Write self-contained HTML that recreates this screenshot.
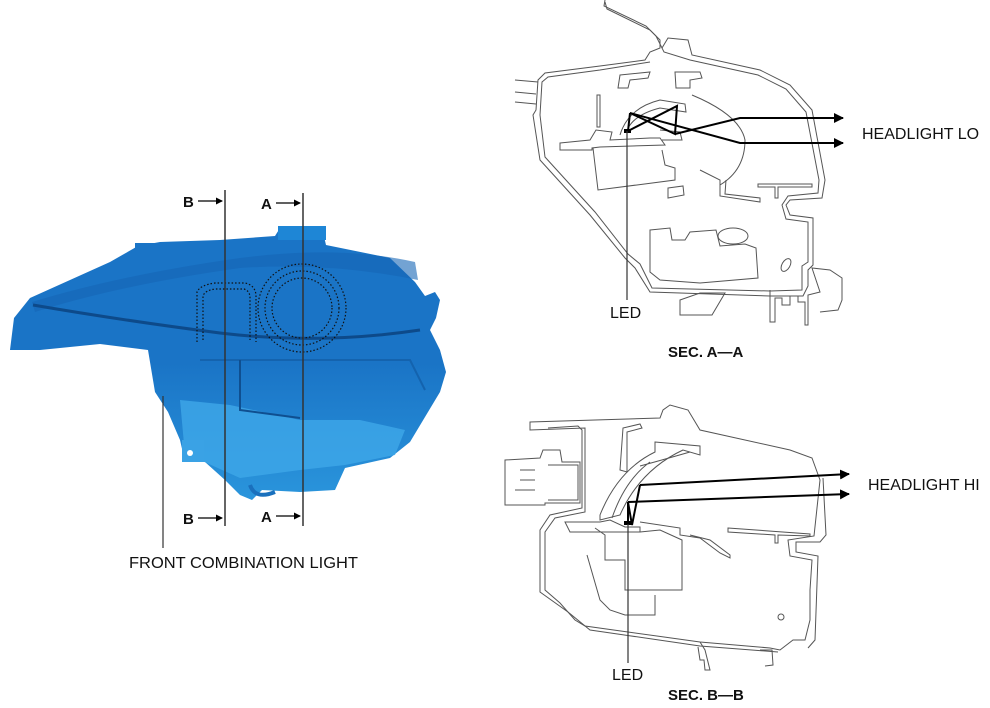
<!DOCTYPE html>
<html><head><meta charset="utf-8">
<style>
html,body{margin:0;padding:0;background:#fff;}
svg{display:block;}
text{font-family:"Liberation Sans",Arial,sans-serif;fill:#111;}
</style></head>
<body>
<svg width="990" height="708" viewBox="0 0 990 708" xmlns="http://www.w3.org/2000/svg">
<defs>
<marker id="ah" markerWidth="10" markerHeight="10" refX="9" refY="5" orient="auto" markerUnits="userSpaceOnUse">
<path d="M0,0 L10,5 L0,10 Z" fill="#000"/></marker>
<marker id="as" markerWidth="7" markerHeight="7" refX="6" refY="3.5" orient="auto" markerUnits="userSpaceOnUse">
<path d="M0,0 L7,3.5 L0,7 Z" fill="#000"/></marker>
<linearGradient id="bg" x1="0" y1="0" x2="0" y2="1">
<stop offset="0" stop-color="#1a74c6"/><stop offset="0.5" stop-color="#1a74c6"/><stop offset="1" stop-color="#2a95dc"/></linearGradient>
</defs>

<path d="M10,350 L14,318 L30,298 L110,262 L138,246 L160,242 L220,240 L275,236 L280,228 L300,226 L322,228 L326,245 L390,258 L415,282 L425,296 L435,292 L440,300 L436,318 L430,330 L440,350 L446,372 L440,392 L428,412 L410,442 L390,458 L345,468 L335,490 L300,492 L262,490 L252,500 L240,495 L225,480 L205,462 L185,462 L180,440 L168,412 L155,392 L148,350 L100,344 L40,350 Z" fill="url(#bg)"/>
<path d="M180,400 L230,405 L300,420 L360,420 L405,430 L395,455 L345,465 L300,470 L240,478 L200,460 L185,455 Z" fill="#3fa8e8" opacity="0.8"/>
<path d="M32,302 Q120,275 240,258 Q340,245 415,262 L418,280 Q330,262 240,268 Q120,285 35,312 Z" fill="#1565b5" opacity="0.6"/>
<path d="M33,305 Q120,320 220,333 Q320,345 420,330" fill="none" stroke="#0d4a8a" stroke-width="3"/>
<path d="M200,360 L410,360 L425,390" fill="none" stroke="#1463ae" stroke-width="2"/>
<path d="M240,360 L240,410 L300,418" fill="none" stroke="#0f4f90" stroke-width="2"/>
<path d="M197,342 L197,292 Q200,285 215,283 L245,283 Q255,285 256,295 L256,342" fill="none" stroke="#111" stroke-width="1.2" stroke-dasharray="1.5,2"/>
<path d="M203,340 L203,296 Q205,290 216,289 L244,289 Q250,291 250,298 L250,340" fill="none" stroke="#111" stroke-width="1.2" stroke-dasharray="1.5,2"/>
<circle cx="302" cy="308" r="44" fill="none" stroke="#111" stroke-width="1.2" stroke-dasharray="1.5,2"/>
<circle cx="302" cy="308" r="37" fill="none" stroke="#111" stroke-width="1.2" stroke-dasharray="1.5,2"/>
<circle cx="302" cy="308" r="30" fill="none" stroke="#111" stroke-width="1.2" stroke-dasharray="1.5,2"/>
<rect x="135" y="243" width="30" height="10" fill="#1a74c6"/>
<rect x="278" y="226" width="48" height="14" fill="#1e86d6"/>
<rect x="182" y="440" width="22" height="22" fill="#3aa2e5"/>
<circle cx="190" cy="453" r="3" fill="#fff"/>
<path d="M250,485 Q255,500 275,492" fill="none" stroke="#1a70bd" stroke-width="4"/>

<line x1="225" y1="190" x2="225" y2="526" stroke="#333" stroke-width="1.5"/>
<line x1="303" y1="193" x2="303" y2="526" stroke="#333" stroke-width="1.5"/>
<line x1="163" y1="396" x2="163" y2="548" stroke="#333" stroke-width="1.2"/>
<text x="183" y="207" font-size="15" font-weight="bold">B</text>
<line x1="198" y1="201" x2="222" y2="201" stroke="#000" stroke-width="1.3" marker-end="url(#as)"/>
<text x="261" y="209" font-size="15" font-weight="bold">A</text>
<line x1="276" y1="203" x2="300" y2="203" stroke="#000" stroke-width="1.3" marker-end="url(#as)"/>
<text x="183" y="524" font-size="15" font-weight="bold">B</text>
<line x1="198" y1="518" x2="222" y2="518" stroke="#000" stroke-width="1.3" marker-end="url(#as)"/>
<text x="261" y="522" font-size="15" font-weight="bold">A</text>
<line x1="276" y1="516" x2="300" y2="516" stroke="#000" stroke-width="1.3" marker-end="url(#as)"/>
<text x="129" y="568" font-size="16" textLength="229" lengthAdjust="spacingAndGlyphs">FRONT COMBINATION LIGHT</text>

<g fill="none" stroke="#555" stroke-width="1">
<path d="M605,2 L607,9 L650,30 L660,40 L660,48 L650,52 L645,60 L600,66 L545,73 L538,80 L536,110 L533,115 L540,160 L590,215 L625,258 L635,268 L650,292 L770,296 L803,296 L808,286 L808,270 L813,265 L813,218 L790,215 L786,205 L790,200 L822,198 L825,180 L812,110 L790,85 L760,70 L692,55 L688,40 L668,38 L662,48"/>
<path d="M605,0 L604,6 L646,26 L656,36 L664,52 L690,60 L758,75 L786,89 L806,112 L819,180 L818,193 L788,196 L782,205 L786,219 L808,222 L808,262 L802,266 L802,290 L770,291 L652,288 L640,264 L628,254 L595,212 L545,157 L540,115 L542,82 L548,77 L600,70 L650,62"/>
<path d="M515,80 L538,82 M515,92 L536,94 M515,102 L536,104"/>
<path d="M620,75 L650,72 L648,78 L630,80 L628,88 L618,88 Z"/>
<path d="M675,72 L700,72 L702,78 L690,80 L690,88 L676,88 Z"/>
<path d="M597,95 L600,95 L600,127 L597,127 Z"/>
<path d="M620,135 Q628,108 660,100 L685,104 L686,112 L660,108 Q636,114 628,128"/>
<path d="M692,95 Q740,115 745,140 Q745,170 720,185"/>
<path d="M560,143 L590,140 L596,130 L612,132 L610,140 L650,138 L660,138 L665,145 L600,147 L592,148 L592,150 L560,150 Z"/>
<path d="M593,148 L598,190 L675,180 L675,168 L665,165 L662,150"/>
<path d="M660,130 L680,132 L682,140 L662,140"/>
<path d="M700,170 L720,180 L720,196 L760,202 L760,198 L725,194 L726,180"/>
<path d="M668,188 L683,186 L684,195 L668,198 Z"/>
<path d="M758,184 L812,184 L812,187 L778,187 L778,198 L775,198 L775,187 L758,187 Z"/>
<path d="M650,230 L670,228 L672,240 L685,240 L690,232 L716,230 L720,246 L745,244 L756,248 L758,278 L700,283 L660,280 L650,272 Z"/>
<ellipse cx="733" cy="236" rx="15" ry="8"/>
<ellipse cx="786" cy="265" rx="4" ry="7" transform="rotate(30 786 265)"/>
<path d="M680,300 L700,293 L725,293 L712,315 L680,315 Z"/>
<path d="M770,290 L770,322 L775,322 L775,298 L782,298 L782,305 L790,305 L790,296 L798,296 L798,302 L805,302 L805,325 L808,325 L808,295 L820,292 L812,268 L830,270 L842,278 L842,300 L838,310 L820,312"/>
</g>
<g stroke="#000" stroke-width="2" fill="none">
<path d="M630,113 L628,131 L677,106 L675,134 L630,113"/>
<path d="M675,134 L740,118 L843,118" marker-end="url(#ah)"/>
<path d="M630,113 L740,143 L843,143" marker-end="url(#ah)"/>
</g>
<rect x="624" y="129" width="7" height="4" fill="#000"/>
<line x1="627" y1="131" x2="627" y2="300" stroke="#333" stroke-width="1.2"/>
<text x="610" y="318" font-size="16">LED</text>
<text x="668" y="357" font-size="15" font-weight="bold">SEC. A—A</text>
<text x="862" y="139" font-size="16">HEADLIGHT LO</text>

<g fill="none" stroke="#555" stroke-width="1">
<path d="M530,422 L530,430 L585,428 L585,512 L555,518 L545,532 L545,590 L560,603 L575,620 L585,626 L700,642 L770,648 L780,650 L793,640 L805,640 L810,620 L810,590 L812,560 L790,556 L788,540 L814,536 L820,480 L812,458 L790,450 L700,430 L688,410 L670,405 L663,410 L660,418 Z"/>
<path d="M548,428 L578,426 L582,430 L582,508 L550,515 L540,530 L540,592 L568,612 L590,630 L700,646 L778,652"/>
<path d="M823,478 L826,535 L820,542 L796,542 L796,552 L818,556 L815,640 L808,648"/>
<path d="M505,460 L540,458 L543,450 L560,450 L562,462 L580,462 L580,503 L545,503 L545,505 L505,505 Z"/>
<path d="M548,465 L578,465 L578,500 L548,500"/>
<path d="M520,470 L535,470 M520,480 L535,480 M515,490 L535,490"/>
<path d="M620,470 L623,428 L640,424 L642,428 L627,432 L627,472 Z"/>
<path d="M655,442 L700,446 L700,455 L683,450 Q640,470 620,515 L600,520 L600,515 Q618,470 655,452 Z"/>
<path d="M640,466 Q655,462 690,452 M612,518 Q625,480 650,462"/>
<path d="M565,522 L600,522 L610,520 L625,527 L640,527 L640,532 L570,532 Z"/>
<path d="M595,528 L605,535 L605,560 L625,560 L625,590 L650,590 L662,590 L682,590 L682,540 L660,530 L640,532"/>
<path d="M587,555 L600,600 L610,610 L625,615 L655,615 L655,595"/>
<path d="M640,522 L680,528 L680,535 L700,538 L720,553 L730,558 L730,555 L710,540 L690,535"/>
<path d="M728,528 L810,534 L810,536 L778,535 L778,543 L775,543 L775,535 L728,532 Z"/>
<circle cx="781" cy="617" r="3"/>
<path d="M700,642 L705,650 L710,670 L705,670 L704,660 L700,660 L698,647"/>
<path d="M760,650 L772,650 L773,665 L765,666"/>
</g>
<g stroke="#000" stroke-width="2" fill="none">
<path d="M640,485 L632,525 L628,502 L628,524"/>
<path d="M640,485 L849,474" marker-end="url(#ah)"/>
<path d="M628,502 L849,494" marker-end="url(#ah)"/>
</g>
<rect x="624" y="521" width="9" height="4" fill="#000"/>
<line x1="628" y1="524" x2="628" y2="663" stroke="#333" stroke-width="1.2"/>
<text x="612" y="680" font-size="16">LED</text>
<text x="668" y="700" font-size="15" font-weight="bold">SEC. B—B</text>
<text x="868" y="490" font-size="16">HEADLIGHT HI</text>
</svg>
</body></html>
